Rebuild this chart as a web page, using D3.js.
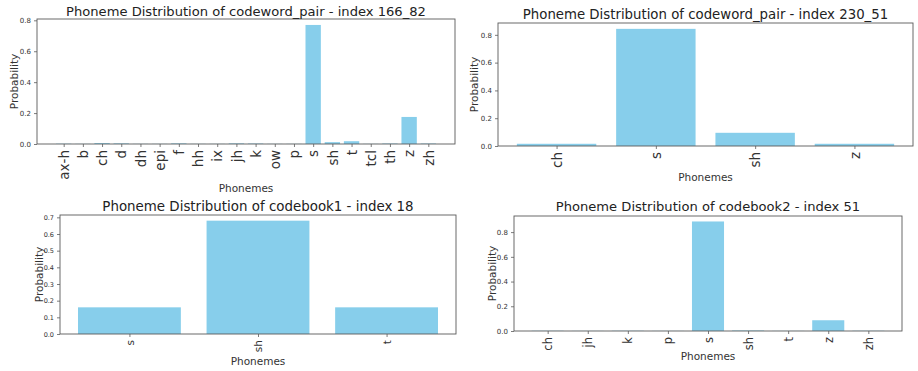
<!DOCTYPE html>
<html><head><meta charset="utf-8">
<script src="https://cdn.jsdelivr.net/npm/d3@7"></script>
<style>
html,body{margin:0;padding:0;background:#fff;}
svg{display:block;font-family:"DejaVu Sans",sans-serif;}
</style></head>
<body><svg id="c" width="918" height="371"></svg>
<script>
// ---- data ----
const p1Title = "Phoneme Distribution of codeword_pair - index 166_82";
const p1Cats = ["ax-h","b","ch","d","dh","epi","f","hh","ix","jh","k","ow","p","s","sh","t","tcl","th","z","zh"];
const p1Vals = [0.002,0.001,0.006,0.004,0.001,0.001,0.004,0.001,0.001,0.004,0.003,0.001,0.001,0.77,0.012,0.018,0.001,0.003,0.175,0.003];
const p1Ticks = [0.0,0.2,0.4,0.6,0.8];

const p2Title = "Phoneme Distribution of codeword_pair - index 230_51";
const p2Cats = ["ch","s","sh","z"];
const p2Vals = [0.016,0.843,0.095,0.016];
const p2Ticks = [0.0,0.2,0.4,0.6,0.8];

const p3Title = "Phoneme Distribution of codebook1 - index 18";
const p3Cats = ["s","sh","t"];
const p3Vals = [0.16,0.68,0.16];
const p3Ticks = [0.0,0.1,0.2,0.3,0.4,0.5,0.6,0.7];

const p4Title = "Phoneme Distribution of codebook2 - index 51";
const p4Cats = ["ch","jh","k","p","s","sh","t","z","zh"];
const p4Vals = [0.002,0.001,0.002,0.001,0.886,0.004,0.001,0.087,0.002];
const p4Ticks = [0.0,0.2,0.4,0.6,0.8];

const xLabel = "Phonemes", yLabel = "Probability";

// ---- layout ----
const panels = [
  {title:p1Title,cats:p1Cats,vals:p1Vals,ticks:p1Ticks,l:37,r:455,t:19,b:144,titleY:16,xlabY:192,ylabX:14,tickFs:13.5,ytFs:7,titleFs:13.1},
  {title:p2Title,cats:p2Cats,vals:p2Vals,ticks:p2Ticks,l:498,r:913,t:23,b:146,titleY:19,xlabY:181,ylabX:474,tickFs:13.5,ytFs:7,titleFs:13.3},
  {title:p3Title,cats:p3Cats,vals:p3Vals,ticks:p3Ticks,l:60,r:456,t:215,b:334,titleY:211,xlabY:365,ylabX:39,tickFs:10.5,ytFs:6.5,titleFs:13.4},
  {title:p4Title,cats:p4Cats,vals:p4Vals,ticks:p4Ticks,l:514,r:902,t:216,b:331,titleY:211,xlabY:360,ylabX:492,tickFs:11.5,ytFs:7,titleFs:13.1}
];

const svg = d3.select("#c");
const barColor = "#87CEEB", axisColor = "#5a5a5a", textColor = "#333";

panels.forEach(p => {
  const n = p.cats.length;
  const m = 0.05 * (n - 0.2);
  const x = d3.scaleLinear().domain([-0.4 - m, n - 0.6 + m]).range([p.l, p.r]);
  const y = d3.scaleLinear().domain([0, d3.max(p.vals) * 1.05]).range([p.b, p.t]);
  const g = svg.append("g");

  g.selectAll("rect.bar").data(p.vals).join("rect")
    .attr("x", (d,i) => x(i - 0.4))
    .attr("width", (d,i) => x(i + 0.4) - x(i - 0.4))
    .attr("y", d => y(d))
    .attr("height", d => p.b - y(d))
    .attr("fill", barColor);

  // frame
  g.append("rect").attr("x", p.l).attr("y", p.t).attr("width", p.r - p.l).attr("height", p.b - p.t)
    .attr("fill", "none").attr("stroke", axisColor).attr("stroke-width", 0.9);

  // y axis
  const ya = g.append("g").attr("transform", `translate(${p.l},0)`)
    .call(d3.axisLeft(y).tickValues(p.ticks).tickFormat(d3.format(".1f")).tickSize(3).tickPadding(3));
  ya.select(".domain").remove();
  ya.selectAll("line").attr("stroke", axisColor).attr("stroke-width", 0.8);
  ya.selectAll("text").attr("fill", textColor).style("font-size", p.ytFs + "px").style("font-family", "DejaVu Sans");

  // x axis
  const xa = g.append("g").attr("transform", `translate(0,${p.b})`)
    .call(d3.axisBottom(x).tickValues(d3.range(n)).tickFormat(i => p.cats[i]).tickSize(3).tickPadding(3));
  xa.select(".domain").remove();
  xa.selectAll("line").attr("stroke", axisColor).attr("stroke-width", 0.8);
  xa.selectAll("text")
    .attr("fill", textColor)
    .style("font-size", p.tickFs + "px").style("font-family", "DejaVu Sans")
    .attr("transform", "rotate(-90)")
    .attr("text-anchor", "end")
    .attr("x", -6).attr("y", 0).attr("dy", "0.35em");

  // title
  g.append("text").attr("x", (p.l + p.r) / 2).attr("y", p.titleY)
    .attr("text-anchor", "middle").attr("fill", "#222")
    .style("font-size", p.titleFs + "px").text(p.title);

  // axis labels
  g.append("text").attr("x", (p.l + p.r) / 2).attr("y", p.xlabY)
    .attr("text-anchor", "middle").attr("fill", textColor)
    .style("font-size", "10.5px").text(xLabel);
  g.append("text").attr("transform", `translate(${p.ylabX},${(p.t + p.b) / 2}) rotate(-90)`)
    .attr("text-anchor", "middle").attr("dy", "0.35em").attr("fill", textColor)
    .style("font-size", "10.5px").text(yLabel);
});
</script></body></html>
